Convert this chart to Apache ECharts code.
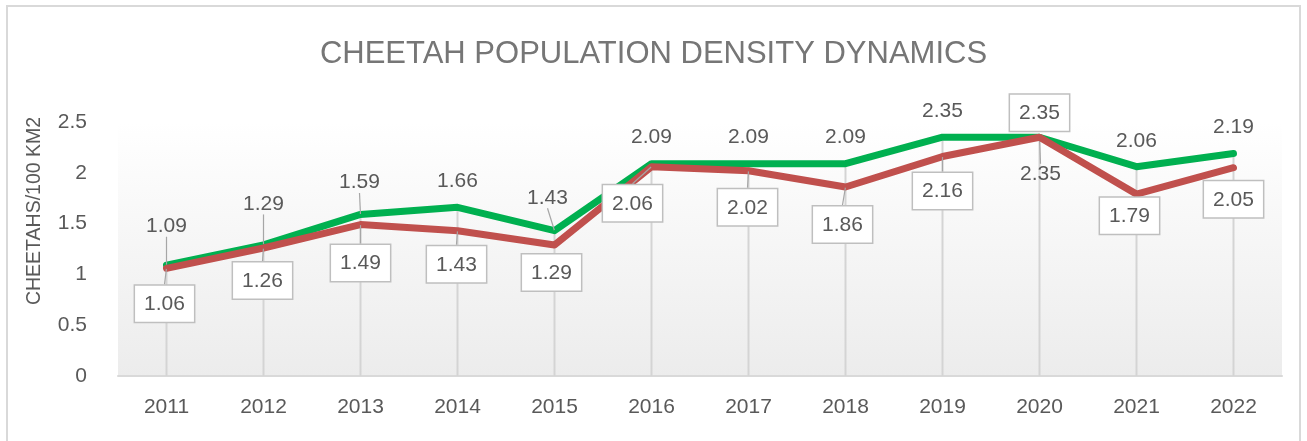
<!DOCTYPE html>
<html>
<head>
<meta charset="utf-8">
<script src="https://cdn.jsdelivr.net/npm/echarts@6/dist/echarts.min.js"></script>
<style>html,body{margin:0;padding:0;background:#fff;}#c{width:1307px;height:441px;}</style>
</head>
<body>
<div id="c"></div>
<script>
const years = ['2011','2012','2013','2014','2015','2016','2017','2018','2019','2020','2021','2022'];
const greenValues = [1.09, 1.29, 1.59, 1.66, 1.43, 2.09, 2.09, 2.09, 2.35, 2.35, 2.06, 2.19];
const redValues = [1.06, 1.26, 1.49, 1.43, 1.29, 2.06, 2.02, 1.86, 2.16, 2.35, 1.79, 2.05];
const yTicks = [0, 0.5, 1, 1.5, 2, 2.5];

const FONT = 'Liberation Sans';
const TXT = '#595959';

// label nudges and leader lines (styling only)
const greenShift = {0:[0,-13],1:[0,-15],2:[-1,-6],4:[-7,-7],9:[1,2]};
const redShift = {0:[-2,4],1:[-1,1],2:[0,7],3:[-1,2],5:[-19,5],6:[-1,5],7:[-3,6],8:[0,3],10:[-7,-10],4:[-3,-4]};
const greenLeader = [0,1,2,4,9];
const redLeader = [0,1,2,3,5,6,7,8];

const dropValues = greenValues.map((v, i) => Math.max(v, redValues[i]));

const chart = echarts.init(document.getElementById('c'), null, {renderer: 'canvas'});

const greenData = greenValues.map((v, i) => {
  const item = {value: v};
  if (years[i] === '2020') item.label = {position: 'bottom', distance: 24};
  if (greenLeader.includes(i)) item.labelLine = {show: true};
  return item;
});
const redData = redValues.map((v, i) => {
  const item = {value: v};
  if (years[i] === '2020') item.label = {position: 'top', distance: 6};
  if (redLeader.includes(i)) item.labelLine = {show: true};
  return item;
});

chart.setOption({
  animation: false,
  backgroundColor: '#ffffff',
  title: {
    text: 'CHEETAH POPULATION DENSITY DYNAMICS',
    left: 'center',
    top: 34,
    textStyle: {fontFamily: FONT, fontSize: 31, fontWeight: 'normal', color: '#767676'}
  },
  graphic: [
    {type: 'rect', shape: {x: 7, y: 6, width: 1293, height: 445}, style: {fill: 'none', stroke: '#d9d9d9', lineWidth: 2}, silent: true, z: -10},
    {type: 'text', x: 35, y: 211, rotation: Math.PI / 2,
     style: {text: 'CHEETAHS/100 KM2', fontFamily: FONT, fontSize: 19.5, fill: TXT, align: 'center', verticalAlign: 'middle'}}
  ],
  grid: {
    left: 118, right: 25, top: 122, bottom: 65, containLabel: false,
    show: true, borderWidth: 0,
    backgroundColor: new echarts.graphic.LinearGradient(0, 0, 0, 1, [
      {offset: 0, color: '#ffffff'}, {offset: 1, color: '#ececec'}
    ])
  },
  xAxis: {
    type: 'category', data: years, boundaryGap: true,
    axisLine: {show: true, lineStyle: {color: '#d9d9d9', width: 2}},
    axisTick: {show: false},
    axisLabel: {fontFamily: FONT, fontSize: 21, color: TXT, margin: 21},
    splitLine: {show: false}
  },
  yAxis: {
    type: 'value', min: 0, max: 2.5, interval: 0.5,
    axisLine: {show: false}, axisTick: {show: false},
    splitLine: {show: false},
    axisLabel: {fontFamily: FONT, fontSize: 21, color: TXT, margin: 31,
      formatter: v => yTicks.includes(v) ? String(v) : ''}
  },
  series: [
    {
      type: 'bar', data: dropValues, barWidth: 2, silent: true, z: 1,
      itemStyle: {color: '#d4d4d4'}, label: {show: false}
    },
    {
      type: 'line', data: greenData, z: 3,
      symbol: 'circle', symbolSize: 1, showSymbol: true,
      itemStyle: {color: '#00b050'},
      lineStyle: {color: '#00b050', width: 7, cap: 'round', join: 'round'},
      label: {show: true, position: 'top', distance: 15, fontFamily: FONT, fontSize: 21, color: TXT},
      labelLine: {show: false, lineStyle: {color: '#a6a6a6', width: 1.2}},
      labelLayout: p => {
        const s = greenShift[p.dataIndex];
        return s ? {dx: s[0], dy: s[1]} : {};
      }
    },
    {
      type: 'line', data: redData, z: 4,
      symbol: 'circle', symbolSize: 1, showSymbol: true,
      itemStyle: {color: '#c0504d'},
      lineStyle: {color: '#c0504d', width: 7, cap: 'round', join: 'round'},
      label: {show: true, position: 'bottom', distance: 13, fontFamily: FONT, fontSize: 21, color: TXT,
        backgroundColor: '#ffffff', borderColor: '#bfbfbf', borderWidth: 1.5, padding: [8, 9, 7, 9]},
      labelLine: {show: false, lineStyle: {color: '#a6a6a6', width: 1.2}},
      labelLayout: p => {
        const s = redShift[p.dataIndex];
        return s ? {dx: s[0], dy: s[1]} : {};
      }
    }
  ]
});
</script>
</body>
</html>
